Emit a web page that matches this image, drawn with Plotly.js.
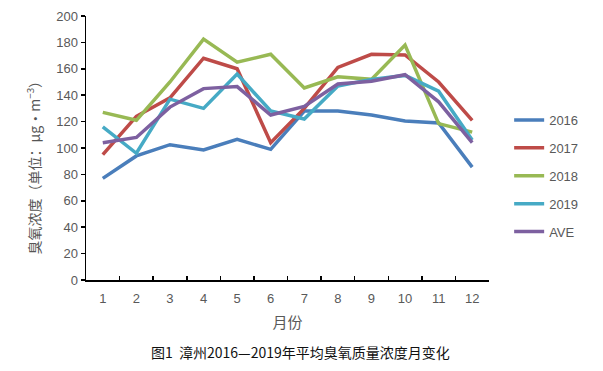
<!DOCTYPE html>
<html>
<head>
<meta charset="utf-8">
<script src="https://cdn.plot.ly/plotly-3.0.1.min.js"></script>
<style>html,body{margin:0;padding:0;background:#fff;}#chart{width:603px;height:371px;}</style>
</head>
<body>
<div id="chart"></div>
<script>
const months = ['1','2','3','4','5','6','7','8','9','10','11','12'];
const seriesNames = ['2016','2017','2018','2019','AVE'];
const v2016 = [77, 94, 102.5, 98.5, 106.5, 99, 128, 128, 125, 120.5, 119, 85.5];
const v2017 = [95, 124, 138, 168, 160, 104, 130, 161, 171, 170.5, 150, 121];
const v2018 = [127, 121, 150, 182.5, 165, 171, 145.5, 154, 152, 178, 118.5, 112];
const v2019 = [116, 96, 137, 130, 156, 128, 122, 147, 152, 155, 143, 106];
const vAVE  = [104, 108, 131, 145, 146.5, 125, 131.5, 148.5, 150.5, 155.5, 135, 104];
const colors = ['#4A7EBB', '#BE4B48', '#98B954', '#46AAC5', '#7D60A0'];
const yTicks = [0,20,40,60,80,100,120,140,160,180,200];

const allVals = [v2016, v2017, v2018, v2019, vAVE];
const traces = allVals.map((vals, i) => ({
  type: 'scatter', mode: 'lines', name: seriesNames[i], legendgroup: 'g' + i,
  x: months, y: vals,
  line: {color: colors[i], width: 3.5},
}));

const grey = '#595959';
const layout = {
  width: 603, height: 371,
  margin: {l: 86, r: 114, t: 16, b: 91},
  paper_bgcolor: '#fff', plot_bgcolor: '#fff',
  font: {family: 'Liberation Sans, Arial, sans-serif', color: grey, size: 13},
  showlegend: true,
  legend: {x: 1.05, y: 0.394, xanchor: 'left', yanchor: 'middle',
           font: {size: 13, color: grey}, tracegroupgap: 8,
           bgcolor: 'rgba(0,0,0,0)'},
  xaxis: {
    type: 'category', categoryarray: months, tickvals: months, range: [-0.5, 11.5],
    showline: true, linecolor: '#000', linewidth: 1.5,
    ticks: 'inside', tickson: 'boundaries', ticklen: 4, tickcolor: '#000', tickwidth: 1.5,
    showgrid: false, zeroline: false, ticklabelstandoff: 6,
    tickfont: {size: 13, color: grey},
    title: {text: '月份', font: {family: 'Noto Sans CJK SC', size: 15, color: grey}, standoff: 12},
  },
  yaxis: {
    range: [0, 200], tickvals: yTicks,
    showline: true, linecolor: '#000', linewidth: 1.5,
    ticks: 'outside', ticklen: 4, tickcolor: '#000', tickwidth: 1.5,
    showgrid: false, zeroline: false,
    tickfont: {size: 13, color: grey},
  },
  annotations: [{
    xref: 'paper', yref: 'paper', x: 0.533, y: -0.273, xanchor: 'center', yanchor: 'middle',
    text: '图1  漳州2016—2019年平均臭氧质量浓度月变化', showarrow: false,
    font: {family: 'Noto Sans CJK SC', size: 14, color: '#111'}
  }, {
    xref: 'paper', yref: 'paper', x: -0.13, y: 0.44, xanchor: 'center', yanchor: 'middle',
    textangle: -90, showarrow: false,
    text: '臭氧浓度（单位：μg·m<sup>−3</sup>）',
    font: {family: 'Noto Sans CJK SC', size: 14, color: '#555555'}
  }]
};
Plotly.newPlot('chart', traces, layout, {displayModeBar: false, staticPlot: true});
</script>
</body>
</html>
